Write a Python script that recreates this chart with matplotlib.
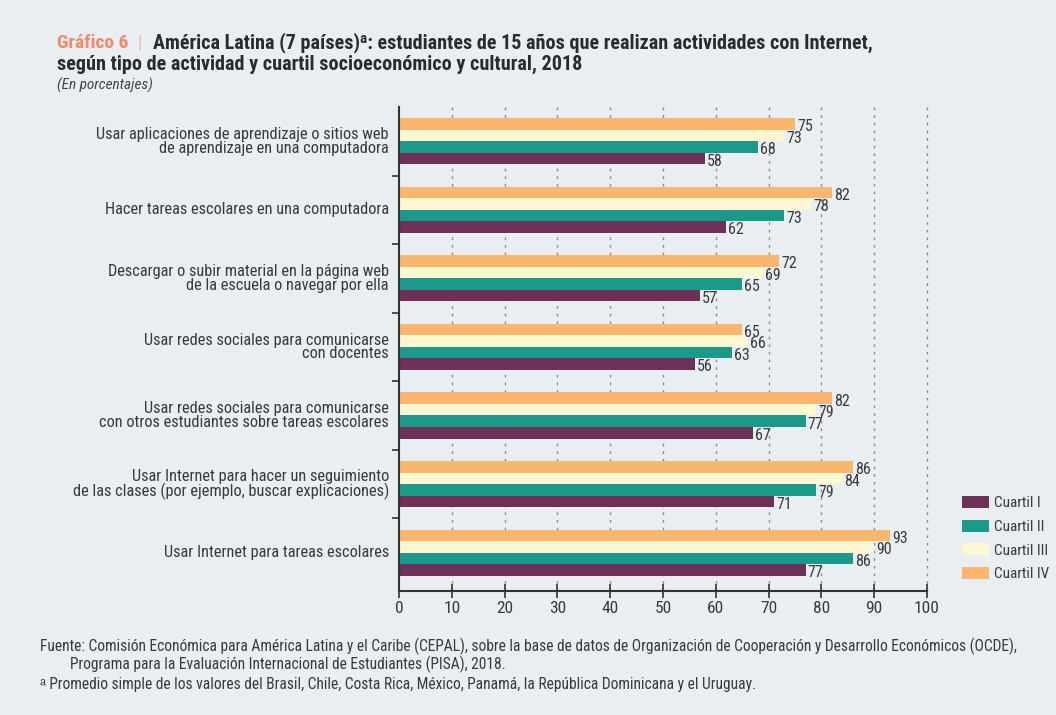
import matplotlib.pyplot as plt
import numpy as np
from matplotlib.patches import Patch
import logging

# Data (percentages)
categories = [
    'Usar aplicaciones de aprendizaje o sitios web\nde aprendizaje en una computadora',
    'Hacer tareas escolares en una computadora',
    'Descargar o subir material en la página web\nde la escuela o navegar por ella',
    'Usar redes sociales para comunicarse\ncon docentes',
    'Usar redes sociales para comunicarse\ncon otros estudiantes sobre tareas escolares',
    'Usar Internet para hacer un seguimiento\nde las clases (por ejemplo, buscar explicaciones)',
    'Usar Internet para tareas escolares',
]
cuartil_1 = [58, 62, 57, 56, 67, 71, 77]
cuartil_2 = [68, 73, 65, 63, 77, 79, 86]
cuartil_3 = [73, 78, 69, 66, 79, 84, 90]
cuartil_4 = [75, 82, 72, 65, 82, 86, 93]
series_names = ['Cuartil I', 'Cuartil II', 'Cuartil III', 'Cuartil IV']
x_ticks = [0, 10, 20, 30, 40, 50, 60, 70, 80, 90, 100]

colors = ['#6e2f58', '#1b9a8c', '#fdf7d2', '#f9b66c']
bg = '#e9eef2'
txt = '#3a3a3a'

logging.getLogger('matplotlib.font_manager').setLevel(logging.ERROR)
plt.rcParams['font.family'] = ['Roboto Condensed', 'Liberation Sans Narrow',
                               'Liberation Sans', 'DejaVu Sans']

fig = plt.figure(figsize=(10.56, 7.15), dpi=100, facecolor=bg)
ax = fig.add_axes([399 / 1056, 1 - 591 / 715, 528 / 1056, 484 / 715])
ax.set_facecolor(bg)

y = np.arange(len(categories))
h = 0.168
series = [cuartil_1, cuartil_2, cuartil_3, cuartil_4]
# offsets: IV on top, then III, II, I at bottom (y axis inverted)
offsets = [1.5 * h, 0.5 * h, -0.5 * h, -1.5 * h]
for vals, off, col in zip(series, offsets, colors):
    bars = ax.barh(y + off, vals, height=h, color=col, zorder=2)
    for b, v in zip(bars, vals):
        ax.annotate(str(v), (v, b.get_y() + b.get_height() / 2),
                    xytext=(1.5, -2), textcoords='offset points',
                    va='center', ha='left', fontsize=11.5, color=txt, zorder=3)

ax.set_xlim(0, 100)
ax.set_ylim(6.56, -0.5)
ax.set_xticks(x_ticks)
ax.set_xticklabels([str(t) for t in x_ticks], fontsize=12.5, color=txt)
ax.tick_params(axis='x', direction='inout', length=10, width=1.2, color='#333333', pad=2)

# group separators as y ticks
ax.set_yticks(np.arange(0.5, len(categories) - 0.5, 1))
ax.set_yticklabels([])
ax.tick_params(axis='y', direction='out', length=5, width=1.2, color='#333333')
for yi, lab in zip(y, categories):
    ax.text(-1.9, yi, lab, ha='right', va='center', fontsize=11.8, color=txt,
            linespacing=0.9)

for t in x_ticks[1:]:
    ax.axvline(t, color='#8c8c8c', lw=1.0, ls=(0, (2, 3.5)), zorder=1, clip_on=False)

for s in ['top', 'right']:
    ax.spines[s].set_visible(False)
ax.spines['left'].set_color('#333333')
ax.spines['left'].set_linewidth(1.5)
ax.spines['bottom'].set_color('#333333')
ax.spines['bottom'].set_linewidth(1.5)

handles = [Patch(facecolor=c, edgecolor='none') for c in colors]
fig.legend(handles, series_names, loc='upper left', bbox_to_anchor=(956 / 1056, 1 - 490 / 715),
           frameon=False, fontsize=11, handlelength=1.75, handleheight=0.85,
           labelspacing=0.6, handletextpad=0.35, labelcolor=txt, borderaxespad=0)

# Title with coloured prefix
renderer = fig.canvas.get_renderer()
t1 = fig.text(57 / 1056, 1 - 48 / 715, 'Gráfico 6', color='#f08a6a', fontsize=14,
              fontweight='bold', va='baseline')
bb = t1.get_window_extent(renderer)
t2 = fig.text((bb.x1 + 9) / 1056, 1 - 48 / 715, '|', color='#f4b8a4', fontsize=14,
              va='baseline')
bb2 = t2.get_window_extent(renderer)
fig.text((bb2.x1 + 11) / 1056, 1 - 48 / 715,
         'América Latina (7 países)\u1d43: estudiantes de 15 años que realizan actividades con Internet,',
         color='#2b2b2b', fontsize=14.5, fontweight='bold', va='baseline')
fig.text(57 / 1056, 1 - 70 / 715,
         'según tipo de actividad y cuartil socioeconómico y cultural, 2018',
         color='#2b2b2b', fontsize=14.5, fontweight='bold', va='baseline')
fig.text(57 / 1056, 1 - 90 / 715, '(En porcentajes)', color='#444444', fontsize=11,
         style='italic', va='baseline')

# Footer
fig.text(40 / 1056, 1 - 651 / 715,
         'Fuente: Comisión Económica para América Latina y el Caribe (CEPAL), sobre la base de datos de '
         'Organización de Cooperación y Desarrollo Económicos (OCDE),',
         color=txt, fontsize=11.2, va='baseline')
fig.text(70 / 1056, 1 - 669 / 715,
         'Programa para la Evaluación Internacional de Estudiantes (PISA), 2018.',
         color=txt, fontsize=11.2, va='baseline')
fig.text(40 / 1056, 1 - 689 / 715,
         '\u1d43 Promedio simple de los valores del Brasil, Chile, Costa Rica, México, Panamá, '
         'la República Dominicana y el Uruguay.',
         color=txt, fontsize=11.2, va='baseline')

fig.savefig('out.png', dpi=100, facecolor=bg)
